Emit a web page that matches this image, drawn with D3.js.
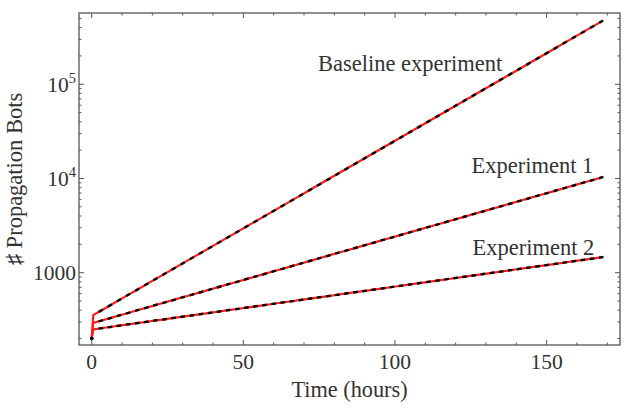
<!DOCTYPE html>
<html><head><meta charset="utf-8">
<script src="https://cdn.jsdelivr.net/npm/d3@7"></script>
<style>body{margin:0;background:#fff}svg{display:block}</style>
</head><body><svg id="c" width="630" height="414"></svg>
<script>
// ---- data ----
const hours = [0,3,6,9,12,15,18,21,24,27,30,33,36,39,42,45,48,51,54,57,60,63,66,69,72,75,78,81,84,87,90,93,96,99,102,105,108,111,114,117,120,123,126,129,132,135,138,141,144,147,150,153,156,159,162,165,168];
const baseline = [200,395,449,511,581,660,751,854,971,1104,1255,1427,1623,1845,2098,2386,2713,3084,3507,3988,4535,5156,5863,6666,7580,8619,9800,11140,12670,14410,16380,18630,21180,24080,27390,31140,35410,40260,45780,52050,59190,67300,76530,87010,98940,112500,127900,145500,165400,188100,213800,243100,276500,314400,357500,406500,462200];
const experiment1 = [200,309,329,351,374,399,425,453,482,514,548,584,622,663,707,753,802,855,911,971,1035,1103,1175,1253,1335,1423,1516,1616,1722,1835,1955,2084,2221,2366,2522,2687,2864,3052,3253,3466,3694,3936,4195,4471,4764,5077,5411,5766,6145,6548,6978,7437,7925,8446,9000,9592,10220];
const experiment2 = [200,257,265,274,283,292,301,311,320,331,341,352,364,375,387,400,412,426,439,453,468,483,498,514,531,548,565,583,602,621,641,662,683,705,727,751,775,800,825,852,879,907,936,966,997,1029,1062,1096,1131,1167,1204,1243,1283,1324,1366,1410,1455];
// initial fast rise of the fitted (red) curves
const fitStartHours = [0, 0.5];
const baselineFitStart = [200, 355];
const experiment1FitStart = [200, 293];
const experiment2FitStart = [200, 250];
const seriesNames = ["Baseline experiment", "Experiment 1", "Experiment 2"];
const xTickValues = [0, 50, 100, 150];
const xMinorTicks = [0,10,20,30,40,50,60,70,80,90,100,110,120,130,140,150,160,170];
const yMajorTicks = [1000, 10000, 100000];
const yTickLabels = [["1000",""],["10","4"],["10","5"]];
const yMinorTicks = [200,300,400,500,600,700,800,900,2000,3000,4000,5000,6000,7000,8000,9000,20000,30000,40000,50000,60000,70000,80000,90000,200000,300000,400000,500000];
const xLabel = "Time (hours)";
const yLabel = "\u266F Propagation Bots";

// ---- layout ----
const FONT = "'Liberation Serif', 'Times New Roman', Times, serif";
const TXT = "#333";
const L = 79, R = 620, T = 13, B = 345;
const svg = d3.select("#c");
const x = d3.scaleLinear().domain([-4.2, 174.2]).range([L, R]);
const y = d3.scaleLog().domain([170.8, 571000]).range([B, T]);

const series = [
  {name: seriesNames[0], vals: baseline, start: baselineFitStart, lx: 318, ly: 71},
  {name: seriesNames[1], vals: experiment1, start: experiment1FitStart, lx: 471.5, ly: 173},
  {name: seriesNames[2], vals: experiment2, start: experiment2FitStart, lx: 472.5, ly: 254.5}
];

const line = d3.line().x(d => x(d[0])).y(d => y(d[1]));
const plot = svg.append("g");
series.forEach(s => {
  const pts = fitStartHours.map((h, i) => [h, s.start[i]]).concat(hours.slice(1).map((h, i) => [h, s.vals[i + 1]]));
  plot.append("path").attr("d", line(pts)).attr("fill", "none").attr("stroke", "#ff1a1a").attr("stroke-width", 2.2);
});
series.forEach(s => {
  const px = hours.map((h, i) => [x(h), y(s.vals[i])]);
  px.forEach((p, i) => {
    if (i === 0) {
      plot.append("circle").attr("cx", p[0]).attr("cy", p[1]).attr("r", 1.7).attr("fill", "#000");
      return;
    }
    const a = px[Math.max(1, i - 1)], b = px[Math.min(px.length - 1, i + 1)];
    const dx = b[0] - a[0], dy = b[1] - a[1], len = Math.hypot(dx, dy) || 1;
    const ux = dx / len * 2.3, uy = dy / len * 2.3;
    plot.append("line").attr("x1", p[0] - ux).attr("y1", p[1] - uy).attr("x2", p[0] + ux).attr("y2", p[1] + uy)
      .attr("stroke", "#000").attr("stroke-width", 2.4);
  });
});

// ---- frame & ticks ----
const frameColor = "#555";
const ax = svg.append("g");
ax.append("rect").attr("x", L).attr("y", T).attr("width", R - L).attr("height", B - T)
  .attr("fill", "none").attr("stroke", frameColor).attr("stroke-width", 1.3);
function tick(x1, y1, x2, y2) { ax.append("line").attr("x1", x1).attr("y1", y1).attr("x2", x2).attr("y2", y2).attr("stroke", frameColor).attr("stroke-width", 1); }
xMinorTicks.forEach(v => {
  const len = xTickValues.includes(v) ? 5 : 2.5;
  tick(x(v), B, x(v), B - len); tick(x(v), T, x(v), T + len);
});
yMinorTicks.forEach(v => { tick(L, y(v), L + 2.5, y(v)); tick(R, y(v), R - 2.5, y(v)); });
yMajorTicks.forEach(v => { tick(L, y(v), L + 5, y(v)); tick(R, y(v), R - 5, y(v)); });

function txt(sel) { return sel.attr("font-family", FONT).attr("fill", TXT); }
xTickValues.forEach(v => {
  txt(svg.append("text")).attr("x", x(v)).attr("y", 368.5).attr("text-anchor", "middle").attr("font-size", 21.5).text(v);
});
yMajorTicks.forEach((v, i) => {
  const t = txt(svg.append("text")).attr("x", 76).attr("y", y(v) + 7.3).attr("text-anchor", "end").attr("font-size", 21.5);
  t.append("tspan").text(yTickLabels[i][0]);
  if (yTickLabels[i][1]) t.append("tspan").attr("font-size", 14.5).attr("dy", -8.5).text(yTickLabels[i][1]);
});

txt(svg.append("text")).attr("x", (L + R) / 2).attr("y", 397).attr("text-anchor", "middle").attr("font-size", 22.3).text(xLabel);
txt(svg.append("text")).attr("transform", "translate(21.5,179) rotate(-90)").attr("text-anchor", "middle").attr("font-size", 22.5).text(yLabel);

series.forEach(s => {
  txt(svg.append("text")).attr("x", s.lx).attr("y", s.ly).attr("font-size", 22.5).text(s.name);
});
</script></body></html>
